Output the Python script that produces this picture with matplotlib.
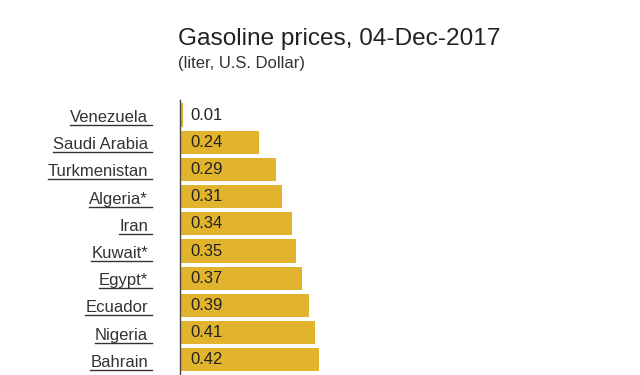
import matplotlib
matplotlib.use("Agg")
import matplotlib.pyplot as plt
import matplotlib.transforms as mtransforms

countries = ["Venezuela", "Saudi Arabia", "Turkmenistan", "Algeria*", "Iran",
             "Kuwait*", "Egypt*", "Ecuador", "Nigeria", "Bahrain"]
prices = [0.01, 0.24, 0.29, 0.31, 0.34, 0.35, 0.37, 0.39, 0.41, 0.42]

plt.rcParams['font.family'] = ['Liberation Sans', 'DejaVu Sans']

W, H = 640, 375
fig = plt.figure(figsize=(W / 100, H / 100), dpi=100)

# axes placed in pixels: left edge is the axis line
ax_left, ax_top, ax_bottom = 180, 100, 375
ax = fig.add_axes([ax_left / W, 1 - ax_bottom / H, (W - ax_left) / W, (ax_bottom - ax_top) / H])

px_per_unit = 330.0
row_px = 27.2
first_center = 115
ax.set_xlim(0, (W - ax_left) / px_per_unit)
ax.set_ylim((ax_bottom - first_center) / row_px, (ax_top - first_center) / row_px)

ypos = list(range(len(countries)))
ax.barh(ypos, prices, height=0.85, color='#e2b42e', edgecolor='none')

for spine in ['top', 'right', 'bottom']:
    ax.spines[spine].set_visible(False)
ax.spines['left'].set_color('#444444')
ax.spines['left'].set_linewidth(1.0)
ax.set_xticks([])
ax.set_yticks([])

# value labels
for y, v in zip(ypos, prices):
    ax.annotate(f"{v:.2f}", (0, y), xytext=(10 * 0.72, 0), textcoords='offset points',
                va='center', ha='left', fontsize=12, color='#222222')

# country labels with underline
lab_tr = mtransforms.blended_transform_factory(ax.transAxes, ax.transData)
x_right = (148 - ax_left) / (W - ax_left)
base_off = 7 / row_px
line_off = 10 / row_px
texts = []
for y, c in zip(ypos, countries):
    t = ax.text(x_right, y + base_off, c, transform=lab_tr, ha='right', va='baseline',
                fontsize=12, color='#333333', clip_on=False)
    texts.append((y, t))

fig.canvas.draw()
r = fig.canvas.get_renderer()
for y, t in texts:
    bb = t.get_window_extent(renderer=r)
    x0 = ax.transAxes.inverted().transform((bb.x0, 0))[0]
    x1 = ax.transAxes.inverted().transform((bb.x1 + 4, 0))[0]
    ax.plot([x0, x1], [y + line_off, y + line_off], transform=lab_tr, color='#333333',
            lw=1.0, clip_on=False)

fig.text(178 / W, 1 - 45 / H, "Gasoline prices, 04-Dec-2017", fontsize=17.6,
         color='#222222', ha='left', va='baseline')
fig.text(178 / W, 1 - 68 / H, "(liter, U.S. Dollar)", fontsize=12,
         color='#333333', ha='left', va='baseline')

fig.savefig("out.png", dpi=100, facecolor='white')
